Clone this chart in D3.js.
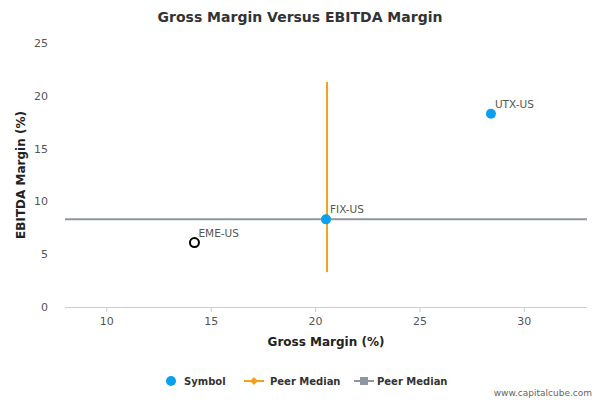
<!DOCTYPE html>
<html><head><meta charset="utf-8">
<script src="https://cdn.jsdelivr.net/npm/d3@7"></script>
<style>body{margin:0;background:#fff;font-family:"DejaVu Sans",sans-serif}</style>
</head><body><svg id="c" width="600" height="400"></svg>
<script>
const symbols=["UTX-US","FIX-US","EME-US"];
const grossMargin=[28.4,20.5,14.2];
const ebitdaMargin=[18.3,8.3,6.1];
const hollow=[false,false,true];
const peerMedianX=20.55, peerVRange=[3.3,21.3];
const peerMedianY=8.3;
const xTicks=[10,15,20,25,30], yTicks=[0,5,10,15,20,25];

const svg=d3.select("#c");
const x=d3.scaleLinear().domain([8,33]).range([65,587]);
const y=d3.scaleLinear().domain([0,25]).range([307,43]);
svg.append("text").attr("x",300).attr("y",22).attr("text-anchor","middle").attr("font-size",14).attr("font-weight","bold").attr("fill","#333").text("Gross Margin Versus EBITDA Margin");
svg.append("line").attr("x1",65).attr("x2",587).attr("y1",307.5).attr("y2",307.5).attr("stroke","#c0d0e0");
xTicks.forEach(t=>{svg.append("line").attr("x1",x(t)).attr("x2",x(t)).attr("y1",307).attr("y2",312).attr("stroke","#c0d0e0");
 svg.append("text").attr("x",x(t)).attr("y",325).attr("text-anchor","middle").attr("font-size",11).attr("fill","#555").text(t);});
yTicks.forEach(t=>svg.append("text").attr("x",48).attr("y",y(t)+4).attr("text-anchor","end").attr("font-size",11).attr("fill","#555").text(t));
svg.append("text").attr("x",326).attr("y",346).attr("text-anchor","middle").attr("font-size",12).attr("font-weight","bold").attr("fill","#222").text("Gross Margin (%)");
svg.append("text").attr("transform","translate(25,175) rotate(-90)").attr("text-anchor","middle").attr("font-size",12).attr("font-weight","bold").attr("fill","#222").text("EBITDA Margin (%)");
svg.append("line").attr("x1",x(8)).attr("x2",x(33)).attr("y1",y(peerMedianY)).attr("y2",y(peerMedianY)).attr("stroke","#8f96a3").attr("stroke-width",2);
svg.append("line").attr("x1",x(peerMedianX)).attr("x2",x(peerMedianX)).attr("y1",y(peerVRange[0])).attr("y2",y(peerVRange[1])).attr("stroke","#f5a01a").attr("stroke-width",2);
symbols.forEach((s,i)=>{
 svg.append("circle").attr("cx",x(grossMargin[i])).attr("cy",y(ebitdaMargin[i])).attr("r",hollow[i]?4.5:5)
  .attr("fill",hollow[i]?"#fff":"#0aa0f0").attr("stroke",hollow[i]?"#000":"none").attr("stroke-width",2);
 svg.append("text").attr("x",x(grossMargin[i])+4).attr("y",y(ebitdaMargin[i])-6).attr("font-size",10.5).attr("fill","#555").text(s);
});
const lg=svg.append("g").attr("font-size",10).attr("font-weight","bold").attr("fill","#333");
lg.append("circle").attr("cx",171).attr("cy",381).attr("r",5).attr("fill","#0aa0f0");
lg.append("text").attr("x",184).attr("y",385).text("Symbol");
lg.append("line").attr("x1",244).attr("x2",264).attr("y1",381).attr("y2",381).attr("stroke","#f5a01a").attr("stroke-width",2);
lg.append("path").attr("d","M254,377L258,381L254,385L250,381Z").attr("fill","#f5a01a");
lg.append("text").attr("x",270).attr("y",385).text("Peer Median");
lg.append("line").attr("x1",354).attr("x2",374).attr("y1",381).attr("y2",381).attr("stroke","#8f96a3").attr("stroke-width",2);
lg.append("rect").attr("x",360).attr("y",377).attr("width",8).attr("height",8).attr("fill","#8f96a3");
lg.append("text").attr("x",377).attr("y",385).text("Peer Median");
svg.append("text").attr("x",592).attr("y",396).attr("text-anchor","end").attr("font-size",9).attr("fill","#666").text("www.capitalcube.com");
</script></body></html>
